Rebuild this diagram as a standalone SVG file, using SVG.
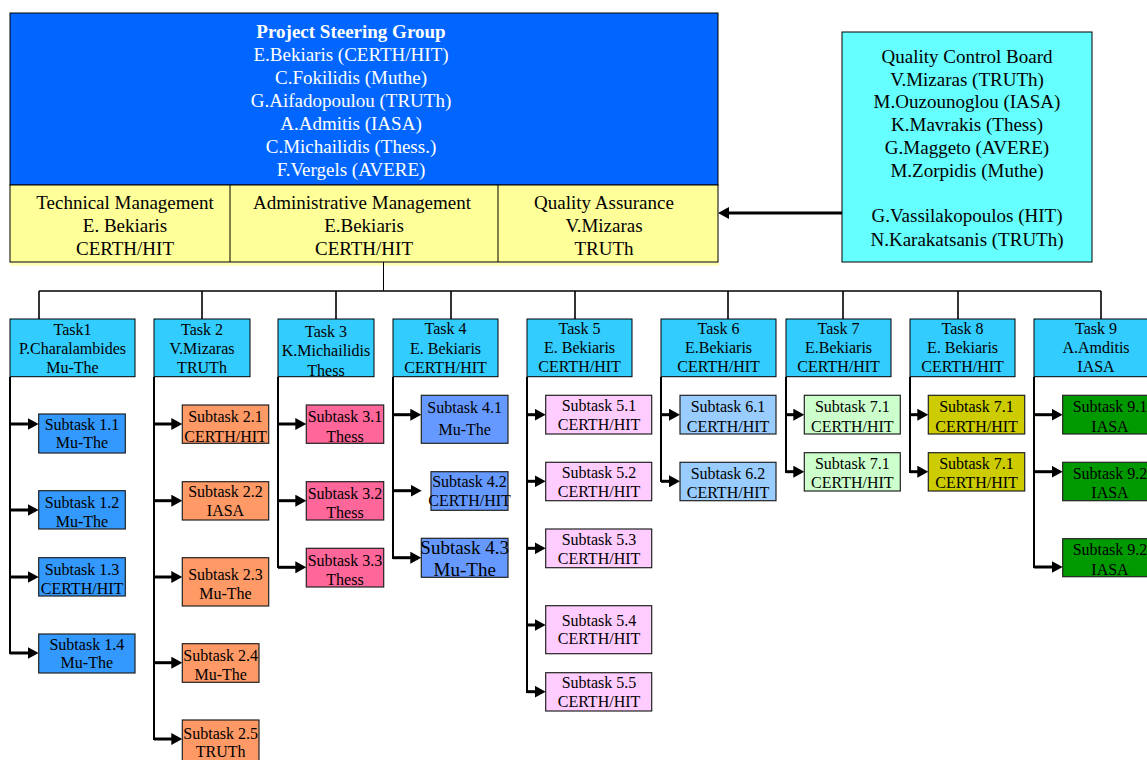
<svg xmlns="http://www.w3.org/2000/svg" width="1147" height="760" viewBox="0 0 1147 760">
<style>
text{font-family:"Liberation Serif","Times New Roman",serif;text-anchor:middle;fill:#000}
.big{font-size:19px}
.w{fill:#fff}
.b{font-weight:bold}
.t{font-size:16px}
.s{font-size:16px}
.s19{font-size:19px}
.box{stroke:#000;stroke-width:1}
.sub{stroke:#222;stroke-width:1.2}
.task{fill:#33CCFF;stroke:#000;stroke-width:1}
.c1{fill:#3399FF}.c2{fill:#FF9966}.c3{fill:#FF6699}.c4{fill:#6699FF}.c5{fill:#FFCCFF}
.c6{fill:#99CCFF}.c7{fill:#CCFFCC}.c8{fill:#CCCC00}.c9{fill:#009900}
.thin{stroke:#000;stroke-width:1;fill:none}
.bus{stroke:#000;stroke-width:1.6;fill:none}
.col{stroke:#000;stroke-width:2;fill:none}
.arr{stroke:#000;stroke-width:3;fill:none;marker-end:url(#ah)}
</style>
<defs>
<marker id="ah" markerUnits="userSpaceOnUse" markerWidth="12" markerHeight="12" refX="2" refY="6" orient="auto">
<path d="M0,0 L11,6 L0,12 z" fill="#000"/>
</marker>
</defs>

<g id="steering">
<rect class="box" x="10" y="13" width="708" height="172" fill="#0066FF"/>
<text class="big w b" x="351" y="38">Project Steering Group</text>
<text class="big w" x="351" y="61">E.Bekiaris (CERTH/HIT)</text>
<text class="big w" x="351" y="84">C.Fokilidis (Muthe)</text>
<text class="big w" x="351" y="107">G.Aifadopoulou (TRUTh)</text>
<text class="big w" x="351" y="130">A.Admitis (IASA)</text>
<text class="big w" x="351" y="153">C.Michailidis (Thess.)</text>
<text class="big w" x="351" y="176">F.Vergels (AVERE)</text>
</g>

<g id="management">
<rect x="10" y="262.5" width="709" height="3" fill="#FFFFB0"/>
<rect class="box" x="10" y="185" width="708" height="77" fill="#FFFF99"/>
<line class="thin" x1="230" y1="185" x2="230" y2="262"/>
<line class="thin" x1="498" y1="185" x2="498" y2="262"/>
<text class="big" x="125" y="209">Technical Management</text>
<text class="big" x="125" y="232">E. Bekiaris</text>
<text class="big" x="125" y="255">CERTH/HIT</text>
<text class="big" x="362" y="209">Administrative Management</text>
<text class="big" x="364" y="232">E.Bekiaris</text>
<text class="big" x="364" y="255">CERTH/HIT</text>
<text class="big" x="604" y="209">Quality Assurance</text>
<text class="big" x="604" y="232">V.Mizaras</text>
<text class="big" x="604" y="255">TRUTh</text>
</g>

<g id="qcb">
<rect class="box" x="842" y="32" width="250" height="230" fill="#66FFFF"/>
<text class="big" x="967" y="63">Quality Control Board</text>
<text class="big" x="967" y="86">V.Mizaras (TRUTh)</text>
<text class="big" x="967" y="108">M.Ouzounoglou (IASA)</text>
<text class="big" x="967" y="131">K.Mavrakis (Thess)</text>
<text class="big" x="967" y="154">G.Maggeto (AVERE)</text>
<text class="big" x="967" y="177">M.Zorpidis (Muthe)</text>
<text class="big" x="967" y="222">G.Vassilakopoulos (HIT)</text>
<text class="big" x="967" y="246">N.Karakatsanis (TRUTh)</text>
</g>

<g id="connectors">
<line class="arr" x1="842" y1="213" x2="727" y2="213"/>
<line class="thin" x1="383.5" y1="262" x2="383.5" y2="291"/>
<line class="bus" x1="39" y1="291" x2="1101" y2="291"/>
<line class="bus" x1="39" y1="291" x2="39" y2="319"/>
<line class="bus" x1="202" y1="291" x2="202" y2="319"/>
<line class="bus" x1="336" y1="291" x2="336" y2="319"/>
<line class="bus" x1="451" y1="291" x2="451" y2="319"/>
<line class="bus" x1="575" y1="291" x2="575" y2="319"/>
<line class="bus" x1="728" y1="291" x2="728" y2="319"/>
<line class="bus" x1="843" y1="291" x2="843" y2="319"/>
<line class="bus" x1="958" y1="291" x2="958" y2="319"/>
<line class="bus" x1="1101" y1="291" x2="1101" y2="319"/>

<line class="col" x1="10" y1="377" x2="10" y2="654"/>
<line class="col" x1="154" y1="377" x2="154" y2="740"/>
<line class="col" x1="278" y1="377" x2="278" y2="568"/>
<line class="col" x1="393" y1="377" x2="393" y2="559"/>
<line class="col" x1="527" y1="377" x2="527" y2="693"/>
<line class="col" x1="661" y1="377" x2="661" y2="482"/>
<line class="col" x1="786" y1="377" x2="786" y2="473"/>
<line class="col" x1="910" y1="377" x2="910" y2="473"/>
<line class="col" x1="1034" y1="377" x2="1034" y2="568"/>

<line class="arr" x1="10" y1="424" x2="29.7" y2="424"/>
<line class="arr" x1="10" y1="510" x2="29.7" y2="510"/>
<line class="arr" x1="10" y1="577" x2="29.7" y2="577"/>
<line class="arr" x1="10" y1="653" x2="29.7" y2="653"/>

<line class="arr" x1="154" y1="424" x2="173.3" y2="424"/>
<line class="arr" x1="154" y1="500.7" x2="173.3" y2="500.7"/>
<line class="arr" x1="154" y1="577" x2="173.3" y2="577"/>
<line class="arr" x1="154" y1="662.7" x2="173.3" y2="662.7"/>
<line class="arr" x1="154" y1="739" x2="173.3" y2="739"/>

<line class="arr" x1="278" y1="424" x2="297.3" y2="424"/>
<line class="arr" x1="278" y1="500.7" x2="297.3" y2="500.7"/>
<line class="arr" x1="278" y1="567.3" x2="297.3" y2="567.3"/>

<line class="arr" x1="393" y1="414.7" x2="412.3" y2="414.7"/>
<line class="arr" x1="393" y1="490.7" x2="412.7" y2="490.7"/>
<line class="arr" x1="393" y1="557.7" x2="412.3" y2="557.7"/>

<line class="arr" x1="527" y1="414.7" x2="536.7" y2="414.7"/>
<line class="arr" x1="527" y1="481.3" x2="536.7" y2="481.3"/>
<line class="arr" x1="527" y1="548.3" x2="536.7" y2="548.3"/>
<line class="arr" x1="527" y1="625" x2="536.7" y2="625"/>
<line class="arr" x1="527" y1="691.7" x2="536.7" y2="691.7"/>

<line class="arr" x1="661" y1="414.7" x2="671" y2="414.7"/>
<line class="arr" x1="661" y1="481.3" x2="671" y2="481.3"/>

<line class="arr" x1="786" y1="414.7" x2="795.3" y2="414.7"/>
<line class="arr" x1="786" y1="471.7" x2="795.3" y2="471.7"/>

<line class="arr" x1="910" y1="414.7" x2="919.3" y2="414.7"/>
<line class="arr" x1="910" y1="471.7" x2="919.3" y2="471.7"/>

<line class="arr" x1="1034" y1="414.7" x2="1053.7" y2="414.7"/>
<line class="arr" x1="1034" y1="471.7" x2="1053.7" y2="471.7"/>
<line class="arr" x1="1034" y1="567" x2="1053.7" y2="567"/>
</g>

<g id="task1">
<rect class="task" x="10" y="319" width="125" height="57.7"/>
<text class="t" x="72.5" y="335">Task1</text>
<text class="t" x="72.5" y="354">P.Charalambides</text>
<text class="t" x="72.5" y="373">Mu-The</text>
</g>
<g id="task2">
<rect class="task" x="154" y="319" width="96" height="57.7"/>
<text class="t" x="202" y="335">Task 2</text>
<text class="t" x="202" y="354">V.Mizaras</text>
<text class="t" x="202" y="373">TRUTh</text>
</g>
<g id="task3">
<rect class="task" x="278" y="319" width="96" height="57.7"/>
<text class="t" x="326" y="337">Task 3</text>
<text class="t" x="326" y="356">K.Michailidis</text>
<text class="t" x="326" y="375.5">Thess</text>
</g>
<g id="task4">
<rect class="task" x="393" y="319" width="105" height="57.7"/>
<text class="t" x="445.5" y="334">Task 4</text>
<text class="t" x="445.5" y="353.5">E. Bekiaris</text>
<text class="t" x="445.5" y="372.5">CERTH/HIT</text>
</g>
<g id="task5">
<rect class="task" x="527" y="319" width="105" height="57.7"/>
<text class="t" x="579.5" y="334">Task 5</text>
<text class="t" x="579.5" y="353">E. Bekiaris</text>
<text class="t" x="579.5" y="372">CERTH/HIT</text>
</g>
<g id="task6">
<rect class="task" x="661" y="319" width="115" height="57.7"/>
<text class="t" x="718.5" y="334">Task 6</text>
<text class="t" x="718.5" y="353">E.Bekiaris</text>
<text class="t" x="718.5" y="372">CERTH/HIT</text>
</g>
<g id="task7">
<rect class="task" x="786" y="319" width="105" height="57.7"/>
<text class="t" x="838.5" y="334">Task 7</text>
<text class="t" x="838.5" y="353">E.Bekiaris</text>
<text class="t" x="838.5" y="372">CERTH/HIT</text>
</g>
<g id="task8">
<rect class="task" x="910" y="319" width="105" height="57.7"/>
<text class="t" x="962.5" y="334">Task 8</text>
<text class="t" x="962.5" y="353">E. Bekiaris</text>
<text class="t" x="962.5" y="372">CERTH/HIT</text>
</g>
<g id="task9">
<rect class="task" x="1034" y="319" width="124" height="57.7"/>
<text class="t" x="1096" y="334">Task 9</text>
<text class="t" x="1096" y="353">A.Amditis</text>
<text class="t" x="1096" y="372">IASA</text>
</g>

<g id="subtask1-1"><rect class="sub c1" x="38.7" y="414" width="86.6" height="39"/><text class="s" x="82" y="430">Subtask 1.1</text><text class="s" x="82" y="448.3">Mu-The</text></g>
<g id="subtask1-2"><rect class="sub c1" x="38.7" y="490.7" width="86.6" height="38.3"/><text class="s" x="82" y="508.3">Subtask 1.2</text><text class="s" x="82" y="526.7">Mu-The</text></g>
<g id="subtask1-3"><rect class="sub c1" x="38.7" y="557.7" width="86.6" height="38.3"/><text class="s" x="82" y="575">Subtask 1.3</text><text class="s" x="82" y="594.3">CERTH/HIT</text></g>
<g id="subtask1-4"><rect class="sub c1" x="38.7" y="634" width="96.3" height="39"/><text class="s" x="86.8" y="650">Subtask 1.4</text><text class="s" x="86.8" y="668.3">Mu-The</text></g>

<g id="subtask2-1"><rect class="sub c2" x="182.3" y="405" width="86.4" height="38.3"/><text class="s" x="225.5" y="421.7">Subtask 2.1</text><text class="s" x="225.5" y="441.7">CERTH/HIT</text></g>
<g id="subtask2-2"><rect class="sub c2" x="182.3" y="481.7" width="86.4" height="38.3"/><text class="s" x="225.5" y="497.3">Subtask 2.2</text><text class="s" x="225.5" y="516">IASA</text></g>
<g id="subtask2-3"><rect class="sub c2" x="182.3" y="557.7" width="86.4" height="48.3"/><text class="s" x="225.5" y="580">Subtask 2.3</text><text class="s" x="225.5" y="599">Mu-The</text></g>
<g id="subtask2-4"><rect class="sub c2" x="182.3" y="643.7" width="76.7" height="38.6"/><text class="s" x="220.7" y="661">Subtask 2.4</text><text class="s" x="220.7" y="680">Mu-The</text></g>
<g id="subtask2-5"><rect class="sub c2" x="182.3" y="720" width="76.7" height="45"/><text class="s" x="220.7" y="739">Subtask 2.5</text><text class="s" x="220.7" y="757.3">TRUTh</text></g>

<g id="subtask3-1"><rect class="sub c3" x="306.3" y="405" width="77.4" height="38.3"/><text class="s" x="345" y="421.7">Subtask 3.1</text><text class="s" x="345" y="441.7">Thess</text></g>
<g id="subtask3-2"><rect class="sub c3" x="306.3" y="481.7" width="77.4" height="38.3"/><text class="s" x="345" y="499">Subtask 3.2</text><text class="s" x="345" y="518.3">Thess</text></g>
<g id="subtask3-3"><rect class="sub c3" x="306.3" y="548.3" width="77.4" height="38.7"/><text class="s" x="345" y="566">Subtask 3.3</text><text class="s" x="345" y="585">Thess</text></g>

<g id="subtask4-1"><rect class="sub c4" x="421.3" y="395.3" width="86.7" height="48"/><text class="s" x="464.7" y="413.3">Subtask 4.1</text><text class="s" x="464.7" y="435">Mu-The</text></g>
<g id="subtask4-2"><rect class="sub c4" x="431" y="471.7" width="77" height="38.6"/><text class="s" x="469.5" y="486.7">Subtask 4.2</text><text class="s" x="469.5" y="506">CERTH/HIT</text></g>
<g id="subtask4-3"><rect class="sub c4" x="421.3" y="538.3" width="86.7" height="39"/><text class="s19" x="464.7" y="554">Subtask 4.3</text><text class="s19" x="464.7" y="576">Mu-The</text></g>

<g id="subtask5-1"><rect class="sub c5" x="545.7" y="395.3" width="106" height="38.7"/><text class="s" x="599" y="411">Subtask 5.1</text><text class="s" x="599" y="430">CERTH/HIT</text></g>
<g id="subtask5-2"><rect class="sub c5" x="545.7" y="462.3" width="106" height="38.4"/><text class="s" x="599" y="477.7">Subtask 5.2</text><text class="s" x="599" y="496.7">CERTH/HIT</text></g>
<g id="subtask5-3"><rect class="sub c5" x="545.7" y="529" width="106" height="38.7"/><text class="s" x="599" y="545">Subtask 5.3</text><text class="s" x="599" y="564">CERTH/HIT</text></g>
<g id="subtask5-4"><rect class="sub c5" x="545.7" y="605.7" width="106" height="48"/><text class="s" x="599" y="625.7">Subtask 5.4</text><text class="s" x="599" y="644.3">CERTH/HIT</text></g>
<g id="subtask5-5"><rect class="sub c5" x="545.7" y="672.7" width="106" height="38.3"/><text class="s" x="599" y="688.3">Subtask 5.5</text><text class="s" x="599" y="706.7">CERTH/HIT</text></g>

<g id="subtask6-1"><rect class="sub c6" x="680" y="395.3" width="96" height="38.7"/><text class="s" x="728" y="412.3">Subtask 6.1</text><text class="s" x="728" y="431.7">CERTH/HIT</text></g>
<g id="subtask6-2"><rect class="sub c6" x="680" y="462.3" width="96" height="38.4"/><text class="s" x="728" y="479">Subtask 6.2</text><text class="s" x="728" y="498.3">CERTH/HIT</text></g>

<g id="subtask7-1a"><rect class="sub c7" x="804.3" y="395.3" width="96" height="38.7"/><text class="s" x="852.3" y="412.3">Subtask 7.1</text><text class="s" x="852.3" y="431.7">CERTH/HIT</text></g>
<g id="subtask7-1b"><rect class="sub c7" x="804.3" y="452.7" width="96" height="38.3"/><text class="s" x="852.3" y="469.3">Subtask 7.1</text><text class="s" x="852.3" y="488.3">CERTH/HIT</text></g>

<g id="subtask8-a"><rect class="sub c8" x="928.3" y="395.3" width="96.4" height="38.7"/><text class="s" x="976.5" y="412.3">Subtask 7.1</text><text class="s" x="976.5" y="431.7">CERTH/HIT</text></g>
<g id="subtask8-b"><rect class="sub c8" x="928.3" y="452.7" width="96.4" height="38.3"/><text class="s" x="976.5" y="469.3">Subtask 7.1</text><text class="s" x="976.5" y="488.3">CERTH/HIT</text></g>

<g id="subtask9-1"><rect class="sub c9" x="1062.7" y="395.3" width="95" height="38.7"/><text class="s" x="1110" y="412.3">Subtask 9.1</text><text class="s" x="1110" y="431.7">IASA</text></g>
<g id="subtask9-2"><rect class="sub c9" x="1062.7" y="462.3" width="95" height="38.4"/><text class="s" x="1110" y="479">Subtask 9.2</text><text class="s" x="1110" y="498.3">IASA</text></g>
<g id="subtask9-3"><rect class="sub c9" x="1062.7" y="538.7" width="95" height="38"/><text class="s" x="1110" y="555.3">Subtask 9.2</text><text class="s" x="1110" y="575">IASA</text></g>
</svg>
